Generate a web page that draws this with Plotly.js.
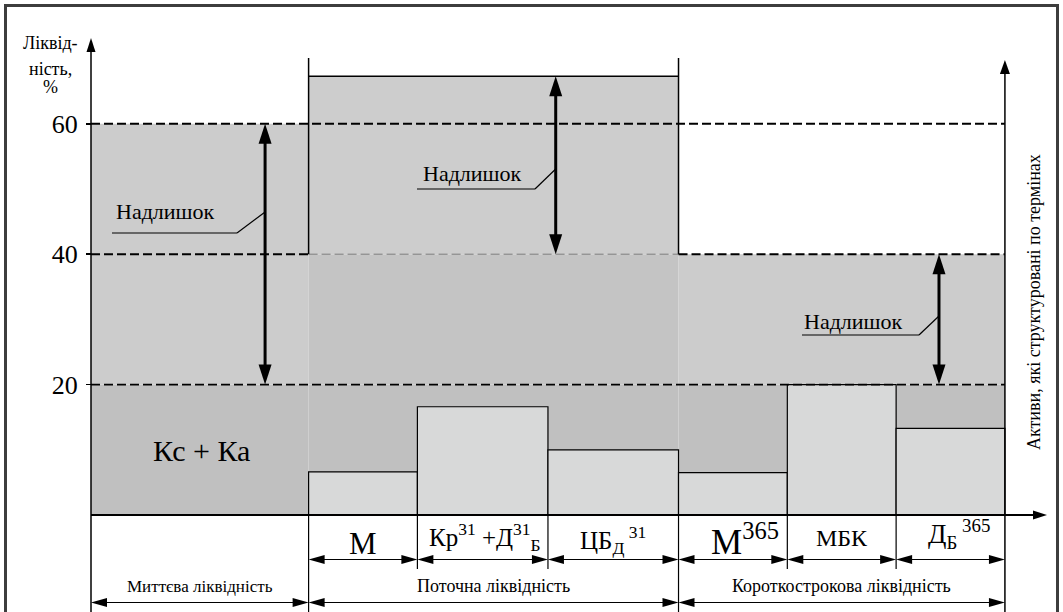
<!DOCTYPE html>
<html><head><meta charset="utf-8">
<script src="https://cdn.plot.ly/plotly-3.0.1.min.js"></script>
<style>html,body{margin:0;padding:0;background:#fff;}#chart{width:1063px;height:612px;}</style>
</head><body><div id="chart"></div>
<script>
// ---------------- data ----------------
const zoneNames = ["Миттєва ліквідність", "Поточна ліквідність", "Короткострокова ліквідність"];
const instantWidth = 2.0;
const termLabels = ["М", "Кр<sup>31</sup> +Д<sup>31</sup><sub>Б</sub>", "ЦБ<sub>Д</sub><sup> 31</sup>", "М<sup>365</sup>", "МБК", "Д<sub>Б</sub><sup> 365</sup>"];
const termWidths = [1.0, 1.2, 1.2, 1.0, 1.0, 1.0];
const termZone = [1, 1, 1, 2, 2, 2];
const termValues = [6.6, 16.6, 10.0, 6.5, 20.0, 13.3];
const cashLevel = 20;            // Кс + Ка
const normLevels = [20, 40, 60];
const zoneTops = [60, 67.3, 40];
const tickVals = [20, 40, 60];
const reserveLabel = "Кс + Ка";
const excessLabel = "Надлишок";
const yTitle = ["Ліквід-", "ність,", "%"];
const rightTitle = "Активи, які структуровані по термінах";

// ---------------- geometry helpers ----------------
const W = 1063, H = 612, AX = 91, BASE = 515;
const PX = 108.8, PY = 6.52;                 // pixels per unit
const toX = p => (p - AX) / PX;
const toY = p => (BASE - p) / PY;
const dx = p => p / PX, dy = p => p / PY;
const SERIF = 'Liberation Serif';

const termStart = []; let acc = instantWidth;
termWidths.forEach(w => { termStart.push(acc); acc += w; });
const termEnd = termStart.map((s, i) => s + termWidths[i]);
const termMid = termStart.map((s, i) => s + termWidths[i] / 2);
const zoneStart = [0, instantWidth, termStart[termZone.indexOf(2)]];
const zoneEnd = [instantWidth, zoneStart[2], acc];
const zoneMid = zoneStart.map((s, i) => (s + zoneEnd[i]) / 2);

const DARK = '#c0c0c0', MED = '#c4c4c4', LIGHT = '#cccccc', LIGHT2 = '#cdcdcd', BARC = '#d8d9d9';

const bX = [], bW = [], bB = [], bH = [], bC = [];
function band(z, lo, hi, c) { bX.push(zoneMid[z]); bW.push(zoneEnd[z] - zoneStart[z]); bB.push(lo); bH.push(hi - lo); bC.push(c); }
band(0, 0, cashLevel, DARK); band(0, cashLevel, zoneTops[0], LIGHT);
band(1, 0, cashLevel, DARK); band(1, cashLevel, normLevels[1], MED); band(1, normLevels[1], zoneTops[1], LIGHT2);
band(2, 0, cashLevel, DARK); band(2, cashLevel, zoneTops[2], LIGHT);

const traces = [
  { type: 'bar', x: bX, y: bH, base: bB, width: bW, marker: { color: bC, line: { width: 0 } }, hoverinfo: 'skip' },
  { type: 'bar', x: termMid, y: termValues, base: 0, width: termWidths, marker: { color: BARC, line: { width: 1.2, color: '#000' } }, hoverinfo: 'skip' }
];

// ---------------- shapes ----------------
const shapes = [];
function line(x0, y0, x1, y1, w, c, dash) {
  shapes.push({ type: 'line', xref: 'x', yref: 'y', x0, y0, x1, y1, line: { width: w, color: c || '#000', dash: dash || 'solid' } });
}
function head(x, y, dir, len, hw) {
  let p;
  if (dir === 'up') p = [[x, y], [x - dx(hw), y - dy(len)], [x + dx(hw), y - dy(len)]];
  if (dir === 'down') p = [[x, y], [x - dx(hw), y + dy(len)], [x + dx(hw), y + dy(len)]];
  if (dir === 'right') p = [[x, y], [x - dx(len), y + dy(hw)], [x - dx(len), y - dy(hw)]];
  if (dir === 'left') p = [[x, y], [x + dx(len), y + dy(hw)], [x + dx(len), y - dy(hw)]];
  shapes.push({ type: 'path', xref: 'x', yref: 'y', path: 'M' + p.map(q => q[0] + ',' + q[1]).join(' L') + ' Z', fillcolor: '#000', line: { width: 0 } });
}
function vArrow(x, yLo, yHi, w, len, hw) {
  line(x, yLo + dy(len * 0.7), x, yHi - dy(len * 0.7), w);
  head(x, yHi, 'up', len, hw); head(x, yLo, 'down', len, hw);
}
function hArrow(x0, x1, y, w, len, hw) {
  line(x0 + dx(len * 0.7), y, x1 - dx(len * 0.7), y, w);
  head(x1, y, 'right', len, hw); head(x0, y, 'left', len, hw);
}

const DASH = '9px,4px';
line(0, normLevels[2], zoneEnd[2], normLevels[2], 2, '#000', DASH);
line(zoneStart[0], normLevels[1], zoneEnd[0], normLevels[1], 2, '#000', DASH);
line(zoneStart[1], normLevels[1], zoneEnd[1], normLevels[1], 1, '#7a7a7a', DASH);
line(zoneStart[2], normLevels[1], zoneEnd[2], normLevels[1], 2, '#000', DASH);
line(0, normLevels[0], zoneEnd[2], normLevels[0], 1.8, '#000', DASH);

const boxTopExt = toY(58);
line(zoneStart[1], normLevels[1], zoneStart[1], boxTopExt, 1.5);
line(zoneEnd[1], normLevels[1], zoneEnd[1], boxTopExt, 1.5);
line(zoneStart[1], zoneTops[1], zoneEnd[1], zoneTops[1], 1.5);

const yBottom = toY(H);
line(0, yBottom, 0, toY(50), 1.5); head(0, toY(38), 'up', 14, 4.5);
line(zoneEnd[2], yBottom, zoneEnd[2], toY(70), 1.5); head(zoneEnd[2], toY(60), 'up', 14, 5);
line(0, 0, toX(1036), 0, 1.8); head(toX(1047), 0, 'right', 14, 4.5);

line(zoneStart[1], 0, zoneStart[1], yBottom, 1.2);
line(zoneStart[2], 0, zoneStart[2], yBottom, 1.2);
termStart.forEach((s, i) => { if (s !== zoneStart[termZone[i]]) line(s, 0, s, toY(569), 1.2); });
termStart.forEach((s, i) => hArrow(s, termEnd[i], toY(559.5), 1.2, 16, 4.5));
zoneStart.forEach((s, i) => hArrow(s, zoneEnd[i], toY(602.5), 1.2, 16, 4.5));

const excess = [
  { z: 0, f: 0.80, lo: normLevels[0], hi: normLevels[2] },
  { z: 1, f: 0.668, lo: normLevels[1], hi: zoneTops[1] },
  { z: 2, f: 0.798, lo: normLevels[0], hi: zoneTops[2] }
];
const exX = excess.map(e => zoneStart[e.z] + e.f * (zoneEnd[e.z] - zoneStart[e.z]));
excess.forEach((e, i) => vArrow(exX[i], e.lo, e.hi, 3, 20, 6.5));

const leaders = [
  { ul0: 112, ul1: 237, uy: 233, ty: 212, tx: 165, tcy: 211 },
  { ul0: 417, ul1: 535, uy: 189, ty: 169, tx: 472, tcy: 173 },
  { ul0: 802, ul1: 919, uy: 335, ty: 316, tx: 853, tcy: 321 }
];
leaders.forEach((l, i) => {
  line(toX(l.ul0), toY(l.uy), toX(l.ul1), toY(l.uy), 1.2);
  line(toX(l.ul1), toY(l.uy), exX[i], toY(l.ty), 1.2);
});

shapes.push({ type: 'rect', xref: 'paper', yref: 'paper', x0: 5.5 / W, x1: 1057.5 / W, y0: -0.1, y1: 1 - 5.5 / H, line: { width: 3, color: '#3d3d3d' }, fillcolor: 'rgba(0,0,0,0)' });

// ---------------- annotations ----------------
const ann = [];
function txt(x, y, text, size, opts) {
  ann.push(Object.assign({ x, y, xref: 'x', yref: 'y', text, showarrow: false, xanchor: 'center', yanchor: 'middle', font: { family: SERIF, size, color: '#000' } }, opts || {}));
}
const yTitleY = [43, 69, 87];
yTitle.forEach((t, i) => txt(toX(50), toY(yTitleY[i]), t, 18));
txt(toX(201), toY(450), reserveLabel, 30);
leaders.forEach(l => txt(toX(l.tx), toY(l.tcy), excessLabel, 22));

const termSize = [31, 25, 25, 35, 24, 27];
const termY = [543.5, 536.5, 539.5, 539.5, 537.5, 533.5];
const termShift = [0, 2, 0, 12, 0, 8];
termLabels.forEach((t, i) => txt(termMid[i], toY(termY[i]), t, termSize[i], { xshift: termShift[i] }));
zoneNames.forEach((t, i) => txt(zoneMid[i], toY(586), t, i === 0 ? 17 : 18));
txt(toX(1034), toY(302), rightTitle, 18, { textangle: -90 });

const layout = {
  width: W, height: H, margin: { l: 0, r: 0, t: 0, b: 0 },
  paper_bgcolor: '#fff', plot_bgcolor: 'rgba(0,0,0,0)',
  font: { family: SERIF, color: '#000' },
  showlegend: false, barmode: 'overlay',
  xaxis: { range: [toX(0), toX(W)], visible: false, fixedrange: true },
  yaxis: {
    range: [toY(H), toY(0)], anchor: 'free', position: AX / W,
    tickvals: tickVals, ticktext: tickVals.map(String), ticks: 'outside', ticklen: 5, tickwidth: 1.5, tickcolor: '#000',
    showgrid: false, zeroline: false, showline: false, ticklabelstandoff: 3,
    tickfont: { family: SERIF, size: 26, color: '#000' }, fixedrange: true
  },
  shapes, annotations: ann
};
Plotly.newPlot('chart', traces, layout, { staticPlot: true, displayModeBar: false });
</script></body></html>
